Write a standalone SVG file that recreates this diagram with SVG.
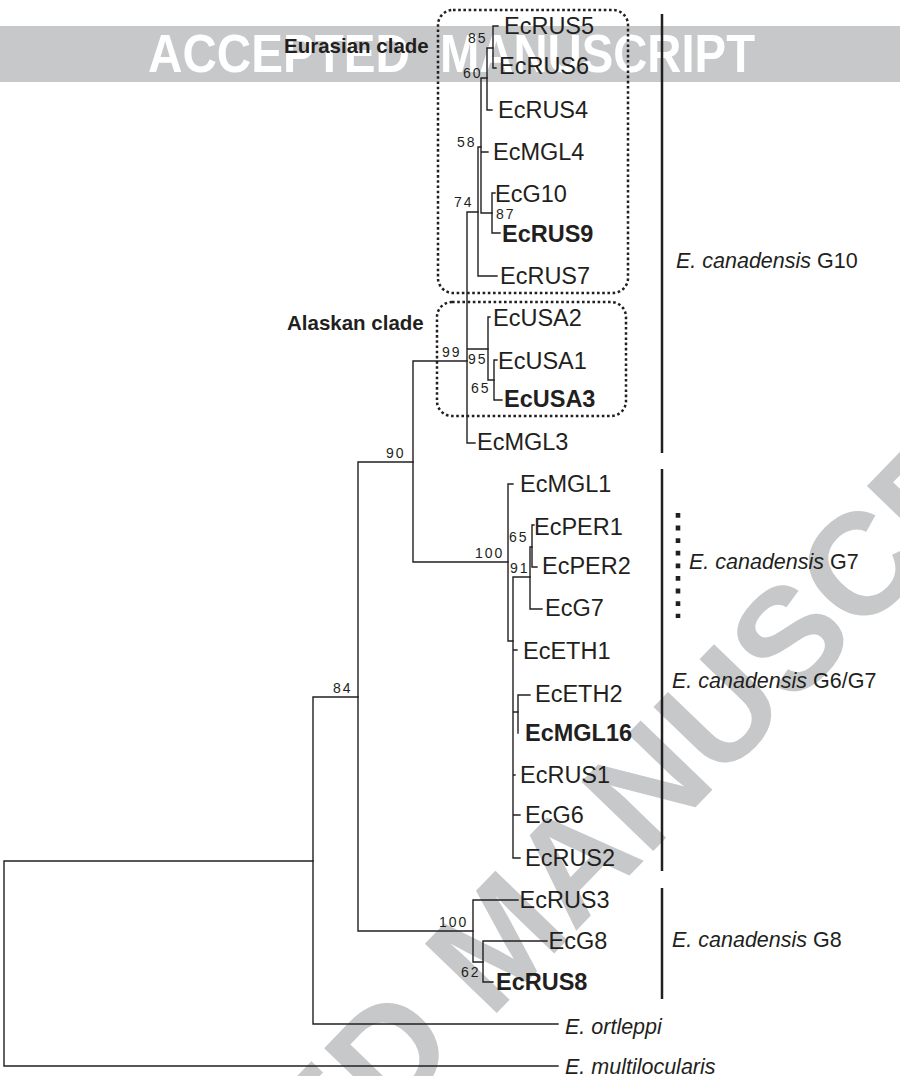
<svg xmlns="http://www.w3.org/2000/svg" width="900" height="1076" viewBox="0 0 900 1076">
<style>
.t{stroke:#231f20;stroke-width:1.4;fill:none;stroke-linecap:square}
text{font-family:"Liberation Sans",Arial,Helvetica,sans-serif;fill:#231f20}
.lf{font-size:23.5px}
.b{font-weight:bold}
.s{font-size:14px;letter-spacing:2px}
.cl{font-size:20.5px;font-weight:bold}
.gp{font-size:21.5px}
.i{font-style:italic}
.box{fill:none;stroke:#231f20;stroke-width:2.5;stroke-dasharray:2.6 2.6}
.bar{stroke:#231f20;stroke-width:2.5;fill:none}
.wm{fill:#c7c8c9;font-weight:bold}
</style>
<rect width="900" height="1076" fill="#fff"/>
<g id="watermark">
<rect x="0" y="26" width="900" height="56" fill="#c7c8c9"/>
<text x="148" y="72" font-size="54" font-weight="bold" style="fill:#fff" textLength="262" lengthAdjust="spacingAndGlyphs">ACCEPTED</text>
<text x="440" y="72" font-size="54" font-weight="bold" style="fill:#fff" textLength="315" lengthAdjust="spacingAndGlyphs">MANUSCRIPT</text>
<text class="wm" transform="translate(490,1020) rotate(-46)" x="-838" y="0" font-size="145" style="fill:#c7c8c9">ACCEPTED MANUSCRIPT</text>
</g>
<g id="clade-boxes">
<rect id="eurasian-box" class="box" x="438" y="10" width="190" height="283" rx="15"/>
<rect id="alaskan-box" class="box" x="437" y="302" width="189" height="114" rx="15"/>
<text class="cl" x="284" y="53">Eurasian clade</text>
<text class="cl" x="287" y="330">Alaskan clade</text>
</g>
<g id="connectors">
<path class="t" d="M4,861 H313 M4,861 V1066 H558"/>
<path class="t" d="M313,697 V1024 H558 M313,697 H358"/>
<path class="t" d="M358,462 V931 H473 M358,462 H413"/>
<path class="t" d="M413,361 V562 H508 M413,361 H467"/>
<path class="t" d="M467,212 V443 H475 M467,212 H478 M467,349 H488"/>
<path class="t" d="M478,147 V276 H497 M478,147 H481"/>
<path class="t" d="M481,78 V213 H492 M481,78 H487 M481,152 H488"/>
<path class="t" d="M487,48 V110 H492 M487,48 H493"/>
<path class="t" d="M493,26 H498 M493,26 V68 H496"/>
<path class="t" d="M492,193 H495 M492,193 V233 H500"/>
<path class="t" d="M488,317 H490 M488,317 V380 H494"/>
<path class="t" d="M494,360 H497 M494,360 V400 H502"/>
<path class="t" d="M508,484 H513 M508,484 V641 H513"/>
<path class="t" d="M513,577 H530 M513,577 V858 H520 M513,650 H517 M513,712 H518 M513,775 H515 M513,815 H520"/>
<path class="t" d="M530,547 H532 M530,547 V609 H542"/>
<path class="t" d="M532,525 H534 M532,525 V567 H537"/>
<path class="t" d="M518,695 H530 M518,695 V733"/>
<path class="t" d="M473,900 H518 M473,900 V962 H483"/>
<path class="t" d="M483,941 H547 M483,941 V982 H493"/>
</g>
<g id="support-values">
<text class="s" x="468" y="43">85</text>
<text class="s" x="463" y="78">60</text>
<text class="s" x="457" y="147">58</text>
<text class="s" x="454" y="207">74</text>
<text class="s" x="496" y="219">87</text>
<text class="s" x="442" y="357">99</text>
<text class="s" x="468" y="364">95</text>
<text class="s" x="471" y="393">65</text>
<text class="s" x="386" y="458">90</text>
<text class="s" x="475" y="558">100</text>
<text class="s" x="509" y="542">65</text>
<text class="s" x="510" y="573">91</text>
<text class="s" x="333" y="693">84</text>
<text class="s" x="439" y="927">100</text>
<text class="s" x="461" y="977">62</text>
</g>
<g id="leaf-EcRUS5"><text class="lf" x="504" y="34">EcRUS5</text></g>
<g id="leaf-EcRUS6"><text class="lf" x="499" y="74">EcRUS6</text></g>
<g id="leaf-EcRUS4"><text class="lf" x="498" y="118">EcRUS4</text></g>
<g id="leaf-EcMGL4"><text class="lf" x="493" y="160">EcMGL4</text></g>
<g id="leaf-EcG10"><text class="lf" x="495" y="201.5">EcG10</text></g>
<g id="leaf-EcRUS9"><text class="lf b" x="502" y="241.5">EcRUS9</text></g>
<g id="leaf-EcRUS7"><text class="lf" x="500" y="284">EcRUS7</text></g>
<g id="leaf-EcUSA2"><text class="lf" x="493" y="326">EcUSA2</text></g>
<g id="leaf-EcUSA1"><text class="lf" x="498" y="369">EcUSA1</text></g>
<g id="leaf-EcUSA3"><text class="lf b" x="504" y="407">EcUSA3</text></g>
<g id="leaf-EcMGL3"><text class="lf" x="477" y="450">EcMGL3</text></g>
<g id="leaf-EcMGL1"><text class="lf" x="520" y="492">EcMGL1</text></g>
<g id="leaf-EcPER1"><text class="lf" x="534" y="535">EcPER1</text></g>
<g id="leaf-EcPER2"><text class="lf" x="542" y="574">EcPER2</text></g>
<g id="leaf-EcG7"><text class="lf" x="545" y="616">EcG7</text></g>
<g id="leaf-EcETH1"><text class="lf" x="523" y="659">EcETH1</text></g>
<g id="leaf-EcETH2"><text class="lf" x="535" y="702">EcETH2</text></g>
<g id="leaf-EcMGL16"><text class="lf b" x="525" y="741">EcMGL16</text></g>
<g id="leaf-EcRUS1"><text class="lf" x="520" y="783">EcRUS1</text></g>
<g id="leaf-EcG6"><text class="lf" x="525" y="823">EcG6</text></g>
<g id="leaf-EcRUS2"><text class="lf" x="525" y="866">EcRUS2</text></g>
<g id="leaf-EcRUS3"><text class="lf" x="519.5" y="908">EcRUS3</text></g>
<g id="leaf-EcG8"><text class="lf" x="548.5" y="949">EcG8</text></g>
<g id="leaf-EcRUS8"><text class="lf b" x="496" y="990">EcRUS8</text></g>
<g id="leaf-ortleppi"><text class="gp i" x="565" y="1034">E. ortleppi</text></g>
<g id="leaf-multilocularis"><text class="gp i" x="565" y="1074">E. multilocularis</text></g>
<g id="group-bars">
<path class="bar" d="M662,14 V453"/>
<path class="bar" d="M662,469 V871"/>
<path class="bar" d="M662,888 V999"/>
<path class="bar" d="M678,513 V618" style="stroke-width:4.6;stroke-dasharray:4.8 7.8"/>
<text class="gp" x="676" y="268"><tspan class="i">E. canadensis</tspan> G10</text>
<text class="gp" x="689" y="569"><tspan class="i">E. canadensis</tspan> G7</text>
<text class="gp" x="672" y="688"><tspan class="i">E. canadensis</tspan> G6/G7</text>
<text class="gp" x="672" y="947"><tspan class="i">E. canadensis</tspan> G8</text>
</g>
</svg>
